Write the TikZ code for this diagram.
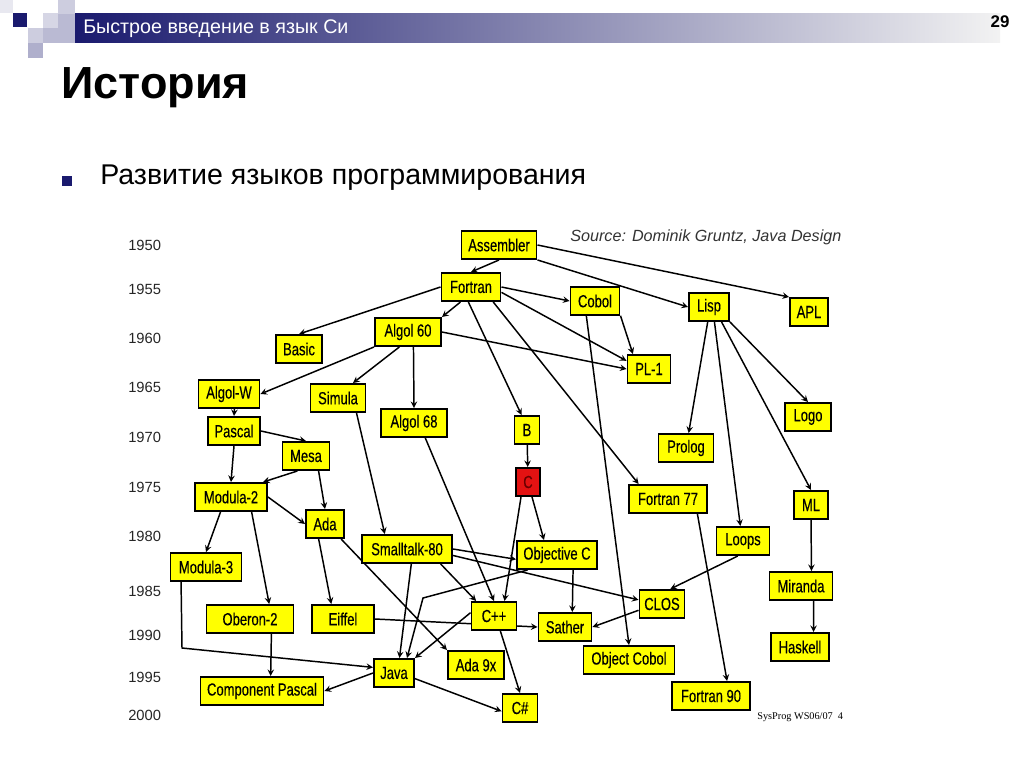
\documentclass[tikz,border=0pt]{standalone}
\usepackage{fontspec}
\setmainfont{Liberation Sans}
\newfontfamily\boxfont[FakeStretch=0.74, FakeBold=0.3]{Liberation Sans}
\newfontfamily\footfont{Liberation Serif}
\usepackage{tikz}
\usetikzlibrary{arrows, positioning, backgrounds}
\definecolor{slidenavy}{HTML}{1A1A6E}
\definecolor{boxyellow}{HTML}{FFFF00}
\definecolor{langred}{HTML}{E31212}
\definecolor{darkred}{HTML}{6A0000}

\begin{document}
\begin{tikzpicture}[x=0.025cm, y=-0.025cm, boxw/.style={minimum width=#1*0.025cm}]
\tikzstyle{box} = [rectangle, draw=black, line width=1.4pt, fill=boxyellow, minimum height=0.7cm, inner sep=1pt, text centered, font=\boxfont\fontsize{12.5}{14}\selectfont]
\tikzstyle{arrow} = [line width=1.05pt, ->, >=stealth]
\tikzstyle{year} = [anchor=west, inner sep=0pt, text=black!85, font=\fontsize{10.5}{12}\selectfont]
\tikzstyle{plain} = [anchor=west, inner sep=0pt]

\useasboundingbox (0,0) rectangle (1024,767);

% slide header
\fill[slidenavy!10] (0,0) rectangle (13,13);
\fill[slidenavy] (13,13) rectangle (27,27);
\fill[slidenavy!22] (28,28) rectangle (43,43);
\fill[slidenavy!35] (28,43) rectangle (43,58);
\fill[slidenavy!18] (43,13) rectangle (58,28);
\fill[slidenavy!30] (43,28) rectangle (58,43);
\fill[slidenavy!22] (58,0) rectangle (75,14);
\fill[slidenavy!30] (58,14) rectangle (75,43);
\shade[left color=slidenavy, right color=white!95!black] (75,14) rectangle (1000,43);
\node (header) [plain, text=white, font=\fontsize{14}{16}\selectfont] at (83,29) {Быстрое введение в язык Си};
\node (pagenum) [font=\bfseries\fontsize{12}{14}\selectfont] at (1000,22) {29};
\node (title) [plain, font=\bfseries\fontsize{32}{36}\selectfont] at (61,88) {История};
\fill[slidenavy] (62,176) rectangle (72,186);
\node (subtitle) [plain, font=\fontsize{20.3}{24}\selectfont] at (100,178) {Развитие языков программирования};

% time axis
\foreach \yr/\yy in {1950/245, 1955/289, 1960/338, 1965/387, 1970/437, 1975/487, 1980/536, 1985/591, 1990/635, 1995/677, 2000/715}
  \node (y\yr) [year] at (128,\yy) {\yr};

\node (source) [plain, text=black!80, font=\itshape\fontsize{11.5}{13}\selectfont] at (570,237) {Source: Dominik Gruntz, Java Design};
\node (footer) [plain, font=\footfont\fontsize{7.3}{9}\selectfont] at (757,717) {SysProg WS06/07\ \ 4};

% languages
\node (assembler) [box, boxw=75] at (499,245) {Assembler};
\node (fortran) [box, boxw=59] at (471,287) {Fortran};
\node (cobol) [box, boxw=49] at (595,301) {Cobol};
\node (lisp) [box, boxw=40] at (709,307) {Lisp};
\node (apl) [box, boxw=38] at (809,312) {APL};
\node (algol60) [box, boxw=66] at (408,332) {Algol 60};
\node (basic) [box, boxw=46] at (299,349) {Basic};
\node (pl1) [box, boxw=43] at (649,369) {PL-1};
\node (algolw) [box, boxw=61] at (229,394) {Algol-W};
\node (simula) [box, boxw=55] at (338,398) {Simula};
\node (logo) [box, boxw=46] at (808,417) {Logo};
\node (algol68) [box, boxw=66] at (414,423) {Algol 68};
\node (b) [box, boxw=25] at (527,430) {B};
\node (pascal) [box, boxw=52] at (234,431) {Pascal};
\node (prolog) [box, boxw=55] at (686,448) {Prolog};
\node (mesa) [box, boxw=47] at (306,456) {Mesa};
\node (c) [box, boxw=24, fill=langred, text=darkred] at (528,482) {C};
\node (modula2) [box, boxw=72] at (231,497) {Modula-2};
\node (f77) [box, boxw=78] at (668,499) {Fortran 77};
\node (ml) [box, boxw=34] at (811,505) {ML};
\node (ada) [box, boxw=38] at (325,524) {Ada};
\node (loops) [box, boxw=53] at (743,541) {Loops};
\node (smalltalk) [box, boxw=90] at (407,549) {Smalltalk-80};
\node (objc) [box, boxw=80] at (557,555) {Objective C};
\node (modula3) [box, boxw=71] at (206,567) {Modula-3};
\node (miranda) [box, boxw=63] at (801,586) {Miranda};
\node (clos) [box, boxw=45] at (662,604) {CLOS};
\node (cpp) [box, boxw=45] at (494,616) {C++};
\node (oberon) [box, boxw=87] at (250,619) {Oberon-2};
\node (eiffel) [box, boxw=62] at (343,619) {Eiffel};
\node (sather) [box, boxw=53] at (565,627) {Sather};
\node (haskell) [box, boxw=58] at (800,647) {Haskell};
\node (ocobol) [box, boxw=91] at (629,660) {Object Cobol};
\node (ada9x) [box, boxw=56] at (476,665) {Ada 9x};
\node (java) [box, boxw=40] at (394,673) {Java};
\node (cpascal) [box, boxw=123] at (262,691) {Component Pascal};
\node (f90) [box, boxw=78] at (711,696) {Fortran 90};
\node (csharp) [box, boxw=35] at (520,708) {C\#};

\coordinate (objcbend) at (423,598);
\coordinate (m3bend) at (182,648);

% influences
\begin{scope}[on background layer]
\draw [arrow] (assembler.south) -- (fortran.north);
\draw [arrow] (assembler.south east) -- (lisp.west);
\draw [arrow] (assembler.east) -- (apl.north west);
\draw [arrow] (fortran.-125) -- (algol60.north east);
\draw [arrow] (fortran.west) -- (basic.north);
\draw [arrow] (fortran.east) -- (cobol.west);
\draw [arrow] (fortran.-10) -- (pl1.160);
\draw [arrow] (fortran.-100) -- (b.110);
\draw [arrow] (fortran.-34) -- (f77.153);
\draw [arrow] (algol60.east) -- (pl1.west);
\draw [arrow] (cobol.-30) -- (pl1.137);
\draw [arrow] (cobol.-120) -- (ocobol.north);
\draw [arrow] (lisp.-95) -- (prolog.80);
\draw [arrow] (lisp.-70) -- (loops.100);
\draw [arrow] (lisp.-50) -- (ml.north);
\draw [arrow] (lisp.south east) -- (logo.north);
\draw [arrow] (algol60.south west) -- (algolw.east);
\draw [arrow] (algol60.-120) -- (simula.45);
\draw [arrow] (algol60.-70) -- (algol68.north);
\draw [arrow] (algolw.-70) -- (pascal.north);
\draw [arrow] (pascal.east) -- (mesa.north);
\draw [arrow] (pascal.south) -- (modula2.north);
\draw [arrow] (mesa.-120) -- (modula2.25);
\draw [arrow] (mesa.-50) -- (ada.north);
\draw [arrow] (modula2.east) -- (ada.west);
\draw [arrow] (modula2.-125) -- (modula3.north);
\draw [arrow] (modula2.-36) -- (oberon.38);
\draw [arrow] (simula.-39) -- (smalltalk.146);
\draw [arrow] (algol68.-53) -- (cpp.north);
\draw [arrow] (b) -- (c);
\draw [arrow] (c.-115) -- (cpp.55);
\draw [arrow] (c.-75) -- (objc.131);
\draw [arrow] (objc.-153) -- (objcbend) -- (java.49);
\draw [arrow] (smalltalk.east) -- (objc.-174);
\draw [arrow] (smalltalk.-8) -- (clos.170);
\draw [arrow] (smalltalk.-24) -- (cpp.140);
\draw [arrow] (smalltalk.-74) -- (java.70);
\draw [arrow] (cpp.172) -- (java.north east);
\draw [arrow] (ada.-43) -- (ada9x.north west);
\draw [arrow] (ada.-113) -- (eiffel.128);
\draw [arrow] (modula3.-149) -- (m3bend) -- (java.165);
\draw [arrow] (oberon.-35) -- (cpascal.60);
\draw [arrow] (java.west) -- (cpascal.east);
\draw [arrow] (java.-15) -- (csharp.-170);
\draw [arrow] (cpp.-67) -- (csharp.north);
\draw [arrow] (objc.-43) -- (sather.64);
\draw [arrow] (clos.-165) -- (sather.east);
\draw [arrow] (loops.-109) -- (clos.61);
\draw [arrow] (f77.-27) -- (f90.43);
\draw [arrow] (ml.south) -- (miranda.55);
\draw [arrow] (miranda.-50) -- (haskell.48);
\draw [arrow] (eiffel.east) -- (sather.west);
\end{scope}
\end{tikzpicture}
\end{document}
